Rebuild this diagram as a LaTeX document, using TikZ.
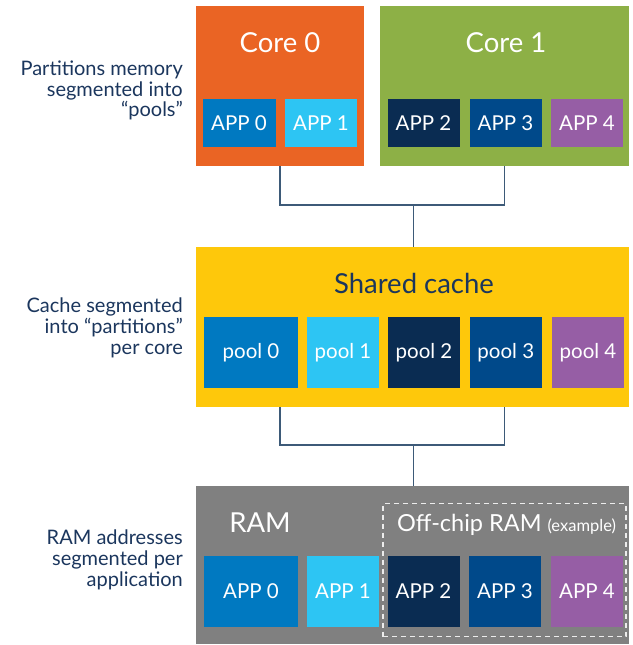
\documentclass[tikz,border=0pt]{standalone}
\usepackage{fontspec}
\setmainfont{Lato}
\definecolor{corange}{HTML}{EA6424}
\definecolor{cgreen}{HTML}{8DB046}
\definecolor{cyellow}{HTML}{FEC80B}
\definecolor{cblue}{HTML}{0079C1}
\definecolor{clight}{HTML}{2DC5F3}
\definecolor{cnavy}{HTML}{0A2C52}
\definecolor{cmid}{HTML}{00498A}
\definecolor{cpurple}{HTML}{965EA5}
\definecolor{cgray}{HTML}{808080}
\definecolor{ctext}{HTML}{1B365D}
\definecolor{cline}{HTML}{3D5A78}
\begin{document}
\begin{tikzpicture}[x=1pt,y=1pt,
  panel/.style={rectangle,inner sep=0pt,minimum width=#1},
  appbox/.style={rectangle,inner sep=0pt,text=white,font=\fontsize{20.5}{22}\selectfont,minimum height=48},
  poolbox/.style={rectangle,inner sep=0pt,text=white,font=\fontsize{20.5}{22}\selectfont,minimum height=71},
  title/.style={inner sep=0pt,font=\fontsize{27.5}{30}\selectfont},
  sidelabel/.style={anchor=east,align=right,inner sep=0pt,text=ctext,font=\fontsize{20}{20.8}\selectfont},
  conn/.style={draw=cline,line width=1.3pt}]
\useasboundingbox (0,0) rectangle (632,-645);
% Core panels
\node[panel=168,minimum height=160,fill=corange] (core0) at (280,-86) {};
\node[panel=249,minimum height=160,fill=cgreen] (core1) at (504.5,-86) {};
\node[title,text=white] (t0) at (280,-43) {Core 0};
\node[title,text=white] (t1) at (506,-43) {Core 1};
\node[appbox,minimum width=73,fill=cblue] (a0) at (239,-123) {APP 0};
\node[appbox,minimum width=72,fill=clight] (a1) at (321,-123) {APP 1};
\node[appbox,minimum width=72,fill=cnavy] (a2) at (423.5,-123) {APP 2};
\node[appbox,minimum width=72,fill=cmid] (a3) at (505.5,-123) {APP 3};
\node[appbox,minimum width=72,fill=cpurple] (a4) at (587,-123) {APP 4};
% Cache
\node[panel=433,minimum height=160,fill=cyellow] (cache) at (412.5,-327) {};
\node[title,text=ctext] (tc) at (414,-283) {Shared cache};
\node[poolbox,minimum width=94,fill=cblue] (p0) at (251,-352.5) {pool 0};
\node[poolbox,minimum width=72,fill=clight] (p1) at (343,-352.5) {pool 1};
\node[poolbox,minimum width=72,fill=cnavy] (p2) at (424,-352.5) {pool 2};
\node[poolbox,minimum width=72,fill=cmid] (p3) at (505.8,-352.5) {pool 3};
\node[poolbox,minimum width=72,fill=cpurple] (p4) at (588,-352.5) {pool 4};
% RAM
\node[panel=433,minimum height=158,fill=cgray] (ram) at (412.5,-565) {};
\node[title,text=white] (tr) at (260,-523) {RAM};
\node[draw=white!85!cgray,dashed,dash pattern=on 5pt off 4pt,line width=1.1pt,rectangle,inner sep=0pt,minimum width=243,minimum height=133] (off) at (504.5,-570) {};
\node[inner sep=0pt,text=white,anchor=west] (toff) at (397,-525) {\fontsize{23.5}{26}\selectfont Off-chip RAM \fontsize{16.5}{18}\selectfont(example)};
\node[poolbox,minimum width=94,fill=cblue] (r0) at (251,-591.5) {APP 0};
\node[poolbox,minimum width=72,fill=clight] (r1) at (343,-591.5) {APP 1};
\node[poolbox,minimum width=72,fill=cnavy] (r2) at (423.5,-591.5) {APP 2};
\node[poolbox,minimum width=72,fill=cmid] (r3) at (505,-591.5) {APP 3};
\node[poolbox,minimum width=72,fill=cpurple] (r4) at (587,-591.5) {APP 4};
% side labels
\node[sidelabel] (l1) at (183,-90.5) {Partitions memory\\segmented into\\``pools''};
\node[sidelabel] (l2) at (183,-328) {Cache segmented\\into ``partitions''\\per core};
\node[sidelabel] (l3) at (183,-560) {RAM addresses\\segmented per\\application};
% connectors
\coordinate (bus1) at (413.5,-205);
\coordinate (bus2) at (413.5,-445);
\draw[conn] (core0.south) |- (bus1) -| (core1.south);
\draw[conn] (bus1) -- (cache.north -| bus1);
\draw[conn] (cache.south -| core0.south) |- (bus2) -| (cache.south -| core1.south);
\draw[conn] (bus2) -- (ram.north -| bus2);
\end{tikzpicture}
\end{document}
